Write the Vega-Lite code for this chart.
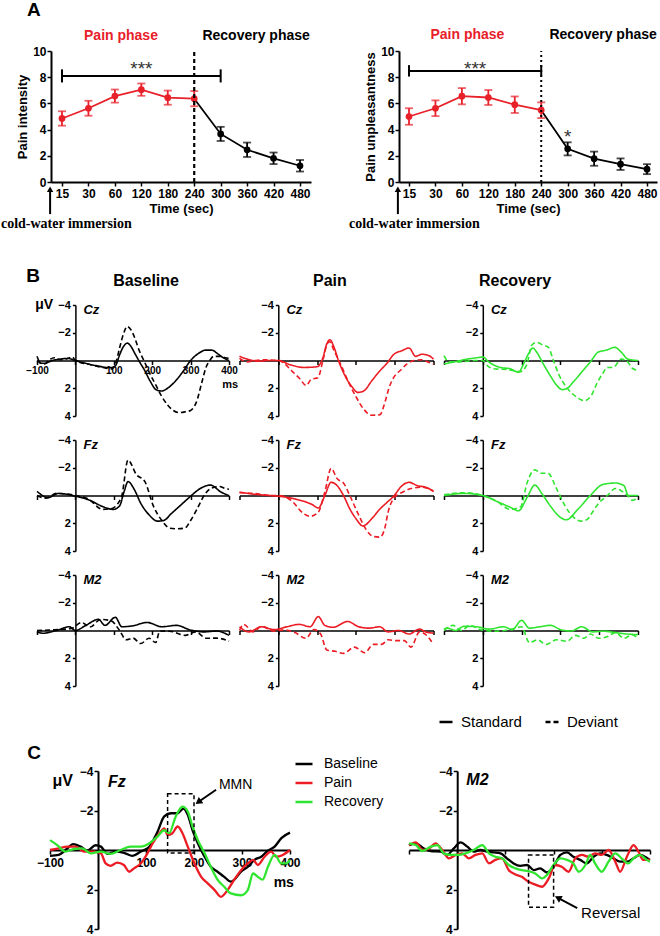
{
"$schema": "https://vega.github.io/schema/vega-lite/v6.json",
"padding": {"left": 0, "top": 0, "right": 0, "bottom": 0},
"autosize": {"type": "pad"},
"background": "white",
"config": {
  "view": {"stroke": null},
  "font": "Liberation Sans",
  "axis": {"grid": false, "domainColor": "black", "tickColor": "black", "labelColor": "black", "titleColor": "black", "labelFont": "Liberation Sans", "titleFont": "Liberation Sans", "labelFontWeight": "bold", "titleFontWeight": "bold", "labelFlush": false, "labelOverlap": false},
  "legend": {"labelFont": "Liberation Sans", "labelColor": "black", "padding": 0},
  "text": {"font": "Liberation Sans", "color": "black"}
},
"datasets": {
  "pi": [
    {"i":0,"sec":15,"m":4.85,"e":0.55},{"i":1,"sec":30,"m":5.63,"e":0.57},{"i":2,"sec":60,"m":6.56,"e":0.5},{"i":3,"sec":120,"m":7.05,"e":0.47},{"i":4,"sec":180,"m":6.44,"e":0.54},
    {"i":5,"sec":240,"m":6.36,"e":0.58},{"i":6,"sec":300,"m":3.67,"e":0.54},{"i":7,"sec":360,"m":2.46,"e":0.55},{"i":8,"sec":420,"m":1.81,"e":0.44},{"i":9,"sec":480,"m":1.24,"e":0.44}
  ],
  "pu": [
    {"i":0,"sec":15,"m":5.0,"e":0.63},{"i":1,"sec":30,"m":5.63,"e":0.6},{"i":2,"sec":60,"m":6.55,"e":0.62},{"i":3,"sec":120,"m":6.45,"e":0.57},{"i":4,"sec":180,"m":5.9,"e":0.63},
    {"i":5,"sec":240,"m":5.48,"e":0.6},{"i":6,"sec":300,"m":2.53,"e":0.5},{"i":7,"sec":360,"m":1.78,"e":0.54},{"i":8,"sec":420,"m":1.36,"e":0.44},{"i":9,"sec":480,"m":0.98,"e":0.38}
  ],
  "bCz": [
    {"c":"Baseline","s":"Standard","t":-100,"v":-0.3},{"c":"Baseline","s":"Standard","t":-90,"v":0.2},{"c":"Baseline","s":"Standard","t":-80,"v":0.2},{"c":"Baseline","s":"Standard","t":-60,"v":0.0},{"c":"Baseline","s":"Standard","t":-40,"v":-0.1},{"c":"Baseline","s":"Standard","t":-20,"v":-0.15},{"c":"Baseline","s":"Standard","t":0,"v":0},{"c":"Baseline","s":"Standard","t":20,"v":0.15},{"c":"Baseline","s":"Standard","t":40,"v":0.3},{"c":"Baseline","s":"Standard","t":60,"v":0.4},{"c":"Baseline","s":"Standard","t":80,"v":0.5},{"c":"Baseline","s":"Standard","t":95,"v":0.5},{"c":"Baseline","s":"Standard","t":105,"v":0.35},{"c":"Baseline","s":"Standard","t":115,"v":-0.4},{"c":"Baseline","s":"Standard","t":125,"v":-1.0},{"c":"Baseline","s":"Standard","t":135,"v":-1.25},{"c":"Baseline","s":"Standard","t":145,"v":-1.0},{"c":"Baseline","s":"Standard","t":155,"v":-0.5},{"c":"Baseline","s":"Standard","t":165,"v":0.0},{"c":"Baseline","s":"Standard","t":180,"v":0.7},{"c":"Baseline","s":"Standard","t":195,"v":1.5},{"c":"Baseline","s":"Standard","t":210,"v":2.1},{"c":"Baseline","s":"Standard","t":225,"v":2.2},{"c":"Baseline","s":"Standard","t":240,"v":2.0},{"c":"Baseline","s":"Standard","t":260,"v":1.5},{"c":"Baseline","s":"Standard","t":280,"v":0.8},{"c":"Baseline","s":"Standard","t":300,"v":0.0},{"c":"Baseline","s":"Standard","t":320,"v":-0.5},{"c":"Baseline","s":"Standard","t":340,"v":-0.75},{"c":"Baseline","s":"Standard","t":355,"v":-0.75},{"c":"Baseline","s":"Standard","t":370,"v":-0.5},{"c":"Baseline","s":"Standard","t":385,"v":-0.2},{"c":"Baseline","s":"Standard","t":400,"v":0.0},
    {"c":"Baseline","s":"Deviant","t":-100,"v":0.0},{"c":"Baseline","s":"Deviant","t":-90,"v":0.2},{"c":"Baseline","s":"Deviant","t":-80,"v":0.25},{"c":"Baseline","s":"Deviant","t":-70,"v":0.0},{"c":"Baseline","s":"Deviant","t":-55,"v":-0.2},{"c":"Baseline","s":"Deviant","t":-40,"v":-0.05},{"c":"Baseline","s":"Deviant","t":-25,"v":-0.1},{"c":"Baseline","s":"Deviant","t":-8,"v":-0.25},{"c":"Baseline","s":"Deviant","t":0,"v":0},{"c":"Baseline","s":"Deviant","t":20,"v":0.2},{"c":"Baseline","s":"Deviant","t":40,"v":0.3},{"c":"Baseline","s":"Deviant","t":60,"v":0.45},{"c":"Baseline","s":"Deviant","t":80,"v":0.55},{"c":"Baseline","s":"Deviant","t":95,"v":0.6},{"c":"Baseline","s":"Deviant","t":105,"v":0.2},{"c":"Baseline","s":"Deviant","t":115,"v":-0.9},{"c":"Baseline","s":"Deviant","t":125,"v":-1.9},{"c":"Baseline","s":"Deviant","t":135,"v":-2.45},{"c":"Baseline","s":"Deviant","t":145,"v":-2.2},{"c":"Baseline","s":"Deviant","t":155,"v":-1.6},{"c":"Baseline","s":"Deviant","t":165,"v":-0.8},{"c":"Baseline","s":"Deviant","t":180,"v":0.1},{"c":"Baseline","s":"Deviant","t":195,"v":1.0},{"c":"Baseline","s":"Deviant","t":210,"v":1.8},{"c":"Baseline","s":"Deviant","t":225,"v":2.6},{"c":"Baseline","s":"Deviant","t":240,"v":3.2},{"c":"Baseline","s":"Deviant","t":255,"v":3.6},{"c":"Baseline","s":"Deviant","t":270,"v":3.75},{"c":"Baseline","s":"Deviant","t":285,"v":3.7},{"c":"Baseline","s":"Deviant","t":300,"v":3.6},{"c":"Baseline","s":"Deviant","t":315,"v":3.0},{"c":"Baseline","s":"Deviant","t":330,"v":1.5},{"c":"Baseline","s":"Deviant","t":340,"v":0.5},{"c":"Baseline","s":"Deviant","t":350,"v":0.0},{"c":"Baseline","s":"Deviant","t":360,"v":-0.3},{"c":"Baseline","s":"Deviant","t":375,"v":-0.3},{"c":"Baseline","s":"Deviant","t":390,"v":-0.2},{"c":"Baseline","s":"Deviant","t":400,"v":-0.15},
    {"c":"Pain","s":"Standard","t":-100,"v":-0.3},{"c":"Pain","s":"Standard","t":-80,"v":-0.1},{"c":"Pain","s":"Standard","t":-50,"v":0.05},{"c":"Pain","s":"Standard","t":-25,"v":0},{"c":"Pain","s":"Standard","t":0,"v":0},{"c":"Pain","s":"Standard","t":30,"v":0.3},{"c":"Pain","s":"Standard","t":65,"v":0.5},{"c":"Pain","s":"Standard","t":100,"v":0.45},{"c":"Pain","s":"Standard","t":115,"v":-0.2},{"c":"Pain","s":"Standard","t":125,"v":-1.2},{"c":"Pain","s":"Standard","t":133,"v":-1.5},{"c":"Pain","s":"Standard","t":143,"v":-1.0},{"c":"Pain","s":"Standard","t":155,"v":0.0},{"c":"Pain","s":"Standard","t":172,"v":1.1},{"c":"Pain","s":"Standard","t":190,"v":1.9},{"c":"Pain","s":"Standard","t":205,"v":2.3},{"c":"Pain","s":"Standard","t":220,"v":2.2},{"c":"Pain","s":"Standard","t":240,"v":1.5},{"c":"Pain","s":"Standard","t":260,"v":0.8},{"c":"Pain","s":"Standard","t":280,"v":0.2},{"c":"Pain","s":"Standard","t":298,"v":-0.45},{"c":"Pain","s":"Standard","t":318,"v":-0.7},{"c":"Pain","s":"Standard","t":337,"v":-0.9},{"c":"Pain","s":"Standard","t":354,"v":-0.3},{"c":"Pain","s":"Standard","t":370,"v":-0.45},{"c":"Pain","s":"Standard","t":388,"v":-0.35},{"c":"Pain","s":"Standard","t":400,"v":-0.1},
    {"c":"Pain","s":"Deviant","t":-100,"v":-0.15},{"c":"Pain","s":"Deviant","t":-80,"v":0.1},{"c":"Pain","s":"Deviant","t":-60,"v":0},{"c":"Pain","s":"Deviant","t":-40,"v":-0.05},{"c":"Pain","s":"Deviant","t":0,"v":0},{"c":"Pain","s":"Deviant","t":15,"v":0.2},{"c":"Pain","s":"Deviant","t":33,"v":0.7},{"c":"Pain","s":"Deviant","t":55,"v":1.3},{"c":"Pain","s":"Deviant","t":72,"v":1.8},{"c":"Pain","s":"Deviant","t":85,"v":1.35},{"c":"Pain","s":"Deviant","t":102,"v":1.25},{"c":"Pain","s":"Deviant","t":115,"v":0.0},{"c":"Pain","s":"Deviant","t":126,"v":-1.2},{"c":"Pain","s":"Deviant","t":132,"v":-1.35},{"c":"Pain","s":"Deviant","t":144,"v":-0.7},{"c":"Pain","s":"Deviant","t":162,"v":0.35},{"c":"Pain","s":"Deviant","t":180,"v":1.5},{"c":"Pain","s":"Deviant","t":200,"v":2.6},{"c":"Pain","s":"Deviant","t":220,"v":3.5},{"c":"Pain","s":"Deviant","t":240,"v":3.95},{"c":"Pain","s":"Deviant","t":262,"v":3.9},{"c":"Pain","s":"Deviant","t":275,"v":3.0},{"c":"Pain","s":"Deviant","t":285,"v":2.0},{"c":"Pain","s":"Deviant","t":298,"v":1.2},{"c":"Pain","s":"Deviant","t":315,"v":0.7},{"c":"Pain","s":"Deviant","t":332,"v":0.25},{"c":"Pain","s":"Deviant","t":350,"v":0.0},{"c":"Pain","s":"Deviant","t":370,"v":-0.05},{"c":"Pain","s":"Deviant","t":385,"v":0.1},{"c":"Pain","s":"Deviant","t":400,"v":0.25},
    {"c":"Recovery","s":"Standard","t":-100,"v":0.25},{"c":"Recovery","s":"Standard","t":-74,"v":0.1},{"c":"Recovery","s":"Standard","t":-40,"v":-0.1},{"c":"Recovery","s":"Standard","t":-15,"v":-0.2},{"c":"Recovery","s":"Standard","t":0,"v":-0.25},{"c":"Recovery","s":"Standard","t":15,"v":0.1},{"c":"Recovery","s":"Standard","t":45,"v":0.5},{"c":"Recovery","s":"Standard","t":71,"v":0.6},{"c":"Recovery","s":"Standard","t":92,"v":0.85},{"c":"Recovery","s":"Standard","t":105,"v":0.25},{"c":"Recovery","s":"Standard","t":118,"v":-0.5},{"c":"Recovery","s":"Standard","t":129,"v":-0.9},{"c":"Recovery","s":"Standard","t":139,"v":-0.6},{"c":"Recovery","s":"Standard","t":156,"v":0.25},{"c":"Recovery","s":"Standard","t":174,"v":1.1},{"c":"Recovery","s":"Standard","t":191,"v":1.8},{"c":"Recovery","s":"Standard","t":205,"v":2.1},{"c":"Recovery","s":"Standard","t":218,"v":2.0},{"c":"Recovery","s":"Standard","t":233,"v":1.55},{"c":"Recovery","s":"Standard","t":259,"v":0.7},{"c":"Recovery","s":"Standard","t":280,"v":0.0},{"c":"Recovery","s":"Standard","t":297,"v":-0.6},{"c":"Recovery","s":"Standard","t":319,"v":-0.75},{"c":"Recovery","s":"Standard","t":340,"v":-0.95},{"c":"Recovery","s":"Standard","t":357,"v":-0.6},{"c":"Recovery","s":"Standard","t":374,"v":-0.1},{"c":"Recovery","s":"Standard","t":400,"v":0.0},
    {"c":"Recovery","s":"Deviant","t":-100,"v":-0.35},{"c":"Recovery","s":"Deviant","t":-87,"v":0.1},{"c":"Recovery","s":"Deviant","t":-57,"v":0.1},{"c":"Recovery","s":"Deviant","t":-23,"v":0.0},{"c":"Recovery","s":"Deviant","t":0,"v":0.0},{"c":"Recovery","s":"Deviant","t":11,"v":0.35},{"c":"Recovery","s":"Deviant","t":28,"v":0.6},{"c":"Recovery","s":"Deviant","t":62,"v":0.65},{"c":"Recovery","s":"Deviant","t":97,"v":0.8},{"c":"Recovery","s":"Deviant","t":114,"v":0.25},{"c":"Recovery","s":"Deviant","t":126,"v":-1.1},{"c":"Recovery","s":"Deviant","t":139,"v":-1.3},{"c":"Recovery","s":"Deviant","t":156,"v":-1.1},{"c":"Recovery","s":"Deviant","t":169,"v":-0.95},{"c":"Recovery","s":"Deviant","t":182,"v":0.0},{"c":"Recovery","s":"Deviant","t":195,"v":0.95},{"c":"Recovery","s":"Deviant","t":215,"v":1.9},{"c":"Recovery","s":"Deviant","t":240,"v":2.6},{"c":"Recovery","s":"Deviant","t":262,"v":2.9},{"c":"Recovery","s":"Deviant","t":280,"v":2.5},{"c":"Recovery","s":"Deviant","t":295,"v":1.6},{"c":"Recovery","s":"Deviant","t":310,"v":0.9},{"c":"Recovery","s":"Deviant","t":320,"v":0.5},{"c":"Recovery","s":"Deviant","t":336,"v":0.5},{"c":"Recovery","s":"Deviant","t":357,"v":-0.1},{"c":"Recovery","s":"Deviant","t":370,"v":0.0},{"c":"Recovery","s":"Deviant","t":387,"v":0.6},{"c":"Recovery","s":"Deviant","t":400,"v":0.7}
  ],
  "bFz": [
    {"c":"Baseline","s":"Standard","t":-100,"v":-0.3},{"c":"Baseline","s":"Standard","t":-71,"v":0.15},{"c":"Baseline","s":"Standard","t":-44,"v":-0.15},{"c":"Baseline","s":"Standard","t":0,"v":0.05},{"c":"Baseline","s":"Standard","t":38,"v":0.35},{"c":"Baseline","s":"Standard","t":71,"v":0.8},{"c":"Baseline","s":"Standard","t":99,"v":1.0},{"c":"Baseline","s":"Standard","t":115,"v":0.75},{"c":"Baseline","s":"Standard","t":127,"v":-0.3},{"c":"Baseline","s":"Standard","t":137,"v":-1.0},{"c":"Baseline","s":"Standard","t":154,"v":-0.4},{"c":"Baseline","s":"Standard","t":170,"v":0.55},{"c":"Baseline","s":"Standard","t":192,"v":1.4},{"c":"Baseline","s":"Standard","t":214,"v":1.85},{"c":"Baseline","s":"Standard","t":230,"v":1.8},{"c":"Baseline","s":"Standard","t":250,"v":1.3},{"c":"Baseline","s":"Standard","t":270,"v":0.8},{"c":"Baseline","s":"Standard","t":290,"v":0.3},{"c":"Baseline","s":"Standard","t":302,"v":0.0},{"c":"Baseline","s":"Standard","t":325,"v":-0.5},{"c":"Baseline","s":"Standard","t":352,"v":-0.75},{"c":"Baseline","s":"Standard","t":379,"v":-0.25},{"c":"Baseline","s":"Standard","t":400,"v":0.0},
    {"c":"Baseline","s":"Deviant","t":-100,"v":0.0},{"c":"Baseline","s":"Deviant","t":-78,"v":0.2},{"c":"Baseline","s":"Deviant","t":-49,"v":-0.15},{"c":"Baseline","s":"Deviant","t":0,"v":0.0},{"c":"Baseline","s":"Deviant","t":33,"v":0.25},{"c":"Baseline","s":"Deviant","t":71,"v":1.0},{"c":"Baseline","s":"Deviant","t":93,"v":0.95},{"c":"Baseline","s":"Deviant","t":110,"v":0.6},{"c":"Baseline","s":"Deviant","t":121,"v":0.0},{"c":"Baseline","s":"Deviant","t":137,"v":-2.55},{"c":"Baseline","s":"Deviant","t":159,"v":-1.5},{"c":"Baseline","s":"Deviant","t":181,"v":-1.0},{"c":"Baseline","s":"Deviant","t":203,"v":0.75},{"c":"Baseline","s":"Deviant","t":225,"v":1.8},{"c":"Baseline","s":"Deviant","t":245,"v":2.35},{"c":"Baseline","s":"Deviant","t":265,"v":2.4},{"c":"Baseline","s":"Deviant","t":285,"v":2.35},{"c":"Baseline","s":"Deviant","t":300,"v":1.8},{"c":"Baseline","s":"Deviant","t":320,"v":0.8},{"c":"Baseline","s":"Deviant","t":335,"v":0.0},{"c":"Baseline","s":"Deviant","t":352,"v":-0.5},{"c":"Baseline","s":"Deviant","t":375,"v":-0.65},{"c":"Baseline","s":"Deviant","t":390,"v":-0.5},{"c":"Baseline","s":"Deviant","t":400,"v":-0.45},
    {"c":"Pain","s":"Standard","t":-100,"v":-0.25},{"c":"Pain","s":"Standard","t":-65,"v":-0.1},{"c":"Pain","s":"Standard","t":-22,"v":0.0},{"c":"Pain","s":"Standard","t":0,"v":0.05},{"c":"Pain","s":"Standard","t":43,"v":0.25},{"c":"Pain","s":"Standard","t":87,"v":0.65},{"c":"Pain","s":"Standard","t":103,"v":0.9},{"c":"Pain","s":"Standard","t":120,"v":0.0},{"c":"Pain","s":"Standard","t":136,"v":-0.95},{"c":"Pain","s":"Standard","t":152,"v":-0.7},{"c":"Pain","s":"Standard","t":168,"v":0.0},{"c":"Pain","s":"Standard","t":185,"v":1.0},{"c":"Pain","s":"Standard","t":201,"v":1.7},{"c":"Pain","s":"Standard","t":218,"v":2.2},{"c":"Pain","s":"Standard","t":240,"v":1.7},{"c":"Pain","s":"Standard","t":261,"v":1.0},{"c":"Pain","s":"Standard","t":280,"v":0.5},{"c":"Pain","s":"Standard","t":299,"v":0.0},{"c":"Pain","s":"Standard","t":315,"v":-0.6},{"c":"Pain","s":"Standard","t":337,"v":-0.95},{"c":"Pain","s":"Standard","t":359,"v":-0.7},{"c":"Pain","s":"Standard","t":380,"v":-0.6},{"c":"Pain","s":"Standard","t":400,"v":-0.3},
    {"c":"Pain","s":"Deviant","t":-100,"v":-0.2},{"c":"Pain","s":"Deviant","t":-65,"v":-0.15},{"c":"Pain","s":"Deviant","t":-20,"v":0.0},{"c":"Pain","s":"Deviant","t":0,"v":0.0},{"c":"Pain","s":"Deviant","t":33,"v":0.35},{"c":"Pain","s":"Deviant","t":65,"v":1.3},{"c":"Pain","s":"Deviant","t":82,"v":1.5},{"c":"Pain","s":"Deviant","t":103,"v":1.2},{"c":"Pain","s":"Deviant","t":120,"v":-0.25},{"c":"Pain","s":"Deviant","t":136,"v":-1.95},{"c":"Pain","s":"Deviant","t":152,"v":-1.2},{"c":"Pain","s":"Deviant","t":168,"v":-0.9},{"c":"Pain","s":"Deviant","t":185,"v":0.05},{"c":"Pain","s":"Deviant","t":207,"v":1.4},{"c":"Pain","s":"Deviant","t":225,"v":2.4},{"c":"Pain","s":"Deviant","t":245,"v":2.95},{"c":"Pain","s":"Deviant","t":262,"v":3.0},{"c":"Pain","s":"Deviant","t":275,"v":2.3},{"c":"Pain","s":"Deviant","t":283,"v":1.2},{"c":"Pain","s":"Deviant","t":299,"v":0.15},{"c":"Pain","s":"Deviant","t":321,"v":-0.25},{"c":"Pain","s":"Deviant","t":342,"v":-0.5},{"c":"Pain","s":"Deviant","t":370,"v":-0.6},{"c":"Pain","s":"Deviant","t":400,"v":-0.3},
    {"c":"Recovery","s":"Standard","t":-100,"v":0.0},{"c":"Recovery","s":"Standard","t":-49,"v":-0.15},{"c":"Recovery","s":"Standard","t":0,"v":0.0},{"c":"Recovery","s":"Standard","t":38,"v":0.45},{"c":"Recovery","s":"Standard","t":71,"v":0.85},{"c":"Recovery","s":"Standard","t":92,"v":1.1},{"c":"Recovery","s":"Standard","t":114,"v":0.15},{"c":"Recovery","s":"Standard","t":134,"v":-0.75},{"c":"Recovery","s":"Standard","t":152,"v":-0.15},{"c":"Recovery","s":"Standard","t":174,"v":0.75},{"c":"Recovery","s":"Standard","t":201,"v":1.6},{"c":"Recovery","s":"Standard","t":215,"v":1.75},{"c":"Recovery","s":"Standard","t":245,"v":1.0},{"c":"Recovery","s":"Standard","t":277,"v":0.0},{"c":"Recovery","s":"Standard","t":310,"v":-0.8},{"c":"Recovery","s":"Standard","t":342,"v":-0.9},{"c":"Recovery","s":"Standard","t":364,"v":-0.7},{"c":"Recovery","s":"Standard","t":375,"v":0.0},{"c":"Recovery","s":"Standard","t":400,"v":0.0},
    {"c":"Recovery","s":"Deviant","t":-100,"v":-0.05},{"c":"Recovery","s":"Deviant","t":-49,"v":-0.2},{"c":"Recovery","s":"Deviant","t":0,"v":0.0},{"c":"Recovery","s":"Deviant","t":35,"v":0.4},{"c":"Recovery","s":"Deviant","t":71,"v":1.0},{"c":"Recovery","s":"Deviant","t":98,"v":0.8},{"c":"Recovery","s":"Deviant","t":114,"v":-0.9},{"c":"Recovery","s":"Deviant","t":134,"v":-1.85},{"c":"Recovery","s":"Deviant","t":152,"v":-1.6},{"c":"Recovery","s":"Deviant","t":168,"v":-1.6},{"c":"Recovery","s":"Deviant","t":190,"v":-0.5},{"c":"Recovery","s":"Deviant","t":212,"v":0.75},{"c":"Recovery","s":"Deviant","t":235,"v":1.6},{"c":"Recovery","s":"Deviant","t":255,"v":1.85},{"c":"Recovery","s":"Deviant","t":270,"v":1.7},{"c":"Recovery","s":"Deviant","t":285,"v":1.1},{"c":"Recovery","s":"Deviant","t":299,"v":0.55},{"c":"Recovery","s":"Deviant","t":321,"v":0.0},{"c":"Recovery","s":"Deviant","t":342,"v":-0.5},{"c":"Recovery","s":"Deviant","t":359,"v":-0.3},{"c":"Recovery","s":"Deviant","t":375,"v":0.05},{"c":"Recovery","s":"Deviant","t":386,"v":0.35},{"c":"Recovery","s":"Deviant","t":400,"v":0.15}
  ],
  "bM2": [
    {"c":"Baseline","s":"Standard","t":-100,"v":0.1},{"c":"Baseline","s":"Standard","t":-85,"v":0.2},{"c":"Baseline","s":"Standard","t":-49,"v":0.0},{"c":"Baseline","s":"Standard","t":-16,"v":-0.27},{"c":"Baseline","s":"Standard","t":0,"v":0.0},{"c":"Baseline","s":"Standard","t":27,"v":-0.37},{"c":"Baseline","s":"Standard","t":60,"v":-0.8},{"c":"Baseline","s":"Standard","t":77,"v":-0.37},{"c":"Baseline","s":"Standard","t":104,"v":-0.95},{"c":"Baseline","s":"Standard","t":121,"v":-0.27},{"c":"Baseline","s":"Standard","t":148,"v":-0.33},{"c":"Baseline","s":"Standard","t":187,"v":-0.58},{"c":"Baseline","s":"Standard","t":225,"v":-0.27},{"c":"Baseline","s":"Standard","t":264,"v":-0.37},{"c":"Baseline","s":"Standard","t":297,"v":-0.06},{"c":"Baseline","s":"Standard","t":335,"v":0.1},{"c":"Baseline","s":"Standard","t":368,"v":0.04},{"c":"Baseline","s":"Standard","t":400,"v":0.35},
    {"c":"Baseline","s":"Deviant","t":-100,"v":0.0},{"c":"Baseline","s":"Deviant","t":-55,"v":-0.05},{"c":"Baseline","s":"Deviant","t":-10,"v":-0.15},{"c":"Baseline","s":"Deviant","t":16,"v":-0.58},{"c":"Baseline","s":"Deviant","t":38,"v":-0.25},{"c":"Baseline","s":"Deviant","t":66,"v":-0.8},{"c":"Baseline","s":"Deviant","t":93,"v":-0.7},{"c":"Baseline","s":"Deviant","t":115,"v":0.0},{"c":"Baseline","s":"Deviant","t":132,"v":0.67},{"c":"Baseline","s":"Deviant","t":150,"v":0.55},{"c":"Baseline","s":"Deviant","t":170,"v":0.94},{"c":"Baseline","s":"Deviant","t":192,"v":0.56},{"c":"Baseline","s":"Deviant","t":209,"v":0.87},{"c":"Baseline","s":"Deviant","t":220,"v":0.04},{"c":"Baseline","s":"Deviant","t":245,"v":0.05},{"c":"Baseline","s":"Deviant","t":286,"v":0.35},{"c":"Baseline","s":"Deviant","t":313,"v":0.1},{"c":"Baseline","s":"Deviant","t":341,"v":0.56},{"c":"Baseline","s":"Deviant","t":368,"v":0.55},{"c":"Baseline","s":"Deviant","t":400,"v":0.77},
    {"c":"Pain","s":"Standard","t":-100,"v":-0.27},{"c":"Pain","s":"Standard","t":-76,"v":0.1},{"c":"Pain","s":"Standard","t":-43,"v":-0.27},{"c":"Pain","s":"Standard","t":-11,"v":-0.06},{"c":"Pain","s":"Standard","t":22,"v":-0.27},{"c":"Pain","s":"Standard","t":54,"v":-0.44},{"c":"Pain","s":"Standard","t":82,"v":-0.27},{"c":"Pain","s":"Standard","t":103,"v":-1.0},{"c":"Pain","s":"Standard","t":120,"v":-0.37},{"c":"Pain","s":"Standard","t":141,"v":-0.23},{"c":"Pain","s":"Standard","t":179,"v":-0.65},{"c":"Pain","s":"Standard","t":207,"v":-0.27},{"c":"Pain","s":"Standard","t":234,"v":-0.17},{"c":"Pain","s":"Standard","t":261,"v":-0.27},{"c":"Pain","s":"Standard","t":283,"v":0.1},{"c":"Pain","s":"Standard","t":310,"v":0.0},{"c":"Pain","s":"Standard","t":337,"v":0.25},{"c":"Pain","s":"Standard","t":364,"v":-0.1},{"c":"Pain","s":"Standard","t":380,"v":0.1},{"c":"Pain","s":"Standard","t":400,"v":0.19},
    {"c":"Pain","s":"Deviant","t":-100,"v":0.0},{"c":"Pain","s":"Deviant","t":-89,"v":-0.44},{"c":"Pain","s":"Deviant","t":-65,"v":0.1},{"c":"Pain","s":"Deviant","t":-43,"v":-0.3},{"c":"Pain","s":"Deviant","t":-11,"v":0.05},{"c":"Pain","s":"Deviant","t":16,"v":-0.05},{"c":"Pain","s":"Deviant","t":43,"v":0.15},{"c":"Pain","s":"Deviant","t":71,"v":0.56},{"c":"Pain","s":"Deviant","t":92,"v":-0.06},{"c":"Pain","s":"Deviant","t":109,"v":0.25},{"c":"Pain","s":"Deviant","t":125,"v":1.4},{"c":"Pain","s":"Deviant","t":147,"v":1.5},{"c":"Pain","s":"Deviant","t":168,"v":1.65},{"c":"Pain","s":"Deviant","t":196,"v":1.2},{"c":"Pain","s":"Deviant","t":223,"v":1.6},{"c":"Pain","s":"Deviant","t":245,"v":1.0},{"c":"Pain","s":"Deviant","t":266,"v":1.0},{"c":"Pain","s":"Deviant","t":283,"v":0.67},{"c":"Pain","s":"Deviant","t":304,"v":0.73},{"c":"Pain","s":"Deviant","t":325,"v":0.73},{"c":"Pain","s":"Deviant","t":342,"v":1.2},{"c":"Pain","s":"Deviant","t":364,"v":0.1},{"c":"Pain","s":"Deviant","t":380,"v":0.3},{"c":"Pain","s":"Deviant","t":400,"v":1.0},
    {"c":"Recovery","s":"Standard","t":-100,"v":-0.1},{"c":"Recovery","s":"Standard","t":-92,"v":-0.17},{"c":"Recovery","s":"Standard","t":-70,"v":0.0},{"c":"Recovery","s":"Standard","t":-49,"v":-0.3},{"c":"Recovery","s":"Standard","t":-16,"v":-0.27},{"c":"Recovery","s":"Standard","t":16,"v":-0.1},{"c":"Recovery","s":"Standard","t":54,"v":-0.27},{"c":"Recovery","s":"Standard","t":76,"v":-0.06},{"c":"Recovery","s":"Standard","t":100,"v":-0.73},{"c":"Recovery","s":"Standard","t":120,"v":-0.17},{"c":"Recovery","s":"Standard","t":147,"v":-0.27},{"c":"Recovery","s":"Standard","t":174,"v":-0.37},{"c":"Recovery","s":"Standard","t":201,"v":-0.06},{"c":"Recovery","s":"Standard","t":228,"v":0.04},{"c":"Recovery","s":"Standard","t":255,"v":-0.27},{"c":"Recovery","s":"Standard","t":283,"v":0.1},{"c":"Recovery","s":"Standard","t":310,"v":0.05},{"c":"Recovery","s":"Standard","t":342,"v":0.15},{"c":"Recovery","s":"Standard","t":370,"v":0.25},{"c":"Recovery","s":"Standard","t":400,"v":0.3},
    {"c":"Recovery","s":"Deviant","t":-100,"v":0.0},{"c":"Recovery","s":"Deviant","t":-77,"v":-0.37},{"c":"Recovery","s":"Deviant","t":-55,"v":0.0},{"c":"Recovery","s":"Deviant","t":-33,"v":-0.37},{"c":"Recovery","s":"Deviant","t":-5,"v":-0.05},{"c":"Recovery","s":"Deviant","t":33,"v":0.05},{"c":"Recovery","s":"Deviant","t":76,"v":-0.1},{"c":"Recovery","s":"Deviant","t":100,"v":-0.27},{"c":"Recovery","s":"Deviant","t":120,"v":0.87},{"c":"Recovery","s":"Deviant","t":141,"v":0.67},{"c":"Recovery","s":"Deviant","t":163,"v":1.0},{"c":"Recovery","s":"Deviant","t":190,"v":0.67},{"c":"Recovery","s":"Deviant","t":217,"v":0.77},{"c":"Recovery","s":"Deviant","t":239,"v":0.35},{"c":"Recovery","s":"Deviant","t":261,"v":0.56},{"c":"Recovery","s":"Deviant","t":277,"v":0.25},{"c":"Recovery","s":"Deviant","t":299,"v":0.56},{"c":"Recovery","s":"Deviant","t":320,"v":0.45},{"c":"Recovery","s":"Deviant","t":342,"v":0.15},{"c":"Recovery","s":"Deviant","t":364,"v":0.56},{"c":"Recovery","s":"Deviant","t":385,"v":0.3},{"c":"Recovery","s":"Deviant","t":400,"v":0.6}
  ],
  "cFz": [
    {"c":"Baseline","t":-100,"v":0.3},{"c":"Baseline","t":-82,"v":0.25},{"c":"Baseline","t":-64,"v":-0.08},{"c":"Baseline","t":-52,"v":-0.3},{"c":"Baseline","t":-36,"v":-0.17},{"c":"Baseline","t":-22,"v":0.03},{"c":"Baseline","t":-5,"v":-0.24},{"c":"Baseline","t":6,"v":-0.17},{"c":"Baseline","t":20,"v":0.2},{"c":"Baseline","t":37,"v":0.08},{"c":"Baseline","t":54,"v":0.14},{"c":"Baseline","t":72,"v":0.3},{"c":"Baseline","t":89,"v":0.08},{"c":"Baseline","t":107,"v":-0.17},{"c":"Baseline","t":124,"v":-0.93},{"c":"Baseline","t":138,"v":-1.7},{"c":"Baseline","t":152,"v":-1.86},{"c":"Baseline","t":166,"v":-1.86},{"c":"Baseline","t":178,"v":-2.1},{"c":"Baseline","t":187,"v":-1.78},{"c":"Baseline","t":197,"v":-1.0},{"c":"Baseline","t":208,"v":-0.34},{"c":"Baseline","t":222,"v":0.34},{"c":"Baseline","t":235,"v":0.85},{"c":"Baseline","t":249,"v":1.1},{"c":"Baseline","t":263,"v":1.36},{"c":"Baseline","t":277,"v":1.6},{"c":"Baseline","t":284,"v":1.5},{"c":"Baseline","t":298,"v":1.1},{"c":"Baseline","t":312,"v":0.85},{"c":"Baseline","t":326,"v":0.5},{"c":"Baseline","t":340,"v":0.34},{"c":"Baseline","t":354,"v":0.03},{"c":"Baseline","t":368,"v":-0.17},{"c":"Baseline","t":382,"v":-0.6},{"c":"Baseline","t":400,"v":-0.88},
    {"c":"Pain","t":-100,"v":0.0},{"c":"Pain","t":-82,"v":-0.08},{"c":"Pain","t":-64,"v":-0.17},{"c":"Pain","t":-47,"v":-0.17},{"c":"Pain","t":-29,"v":0.08},{"c":"Pain","t":-8,"v":0.08},{"c":"Pain","t":6,"v":0.17},{"c":"Pain","t":16,"v":0.68},{"c":"Pain","t":26,"v":0.8},{"c":"Pain","t":40,"v":0.64},{"c":"Pain","t":54,"v":0.76},{"c":"Pain","t":65,"v":1.1},{"c":"Pain","t":75,"v":0.93},{"c":"Pain","t":89,"v":0.68},{"c":"Pain","t":103,"v":0.17},{"c":"Pain","t":114,"v":-0.34},{"c":"Pain","t":128,"v":-0.85},{"c":"Pain","t":138,"v":-1.1},{"c":"Pain","t":145,"v":-0.76},{"c":"Pain","t":155,"v":-0.85},{"c":"Pain","t":166,"v":-1.19},{"c":"Pain","t":176,"v":-0.85},{"c":"Pain","t":187,"v":-0.17},{"c":"Pain","t":201,"v":0.68},{"c":"Pain","t":215,"v":1.36},{"c":"Pain","t":229,"v":1.7},{"c":"Pain","t":243,"v":2.03},{"c":"Pain","t":256,"v":2.37},{"c":"Pain","t":270,"v":2.03},{"c":"Pain","t":284,"v":1.5},{"c":"Pain","t":298,"v":1.02},{"c":"Pain","t":312,"v":0.68},{"c":"Pain","t":323,"v":0.5},{"c":"Pain","t":333,"v":0.76},{"c":"Pain","t":347,"v":0.34},{"c":"Pain","t":361,"v":0.08},{"c":"Pain","t":371,"v":0.34},{"c":"Pain","t":385,"v":0.25},{"c":"Pain","t":400,"v":0.0},
    {"c":"Recovery","t":-100,"v":-0.5},{"c":"Recovery","t":-85,"v":-0.25},{"c":"Recovery","t":-68,"v":0.08},{"c":"Recovery","t":-50,"v":-0.05},{"c":"Recovery","t":-33,"v":-0.08},{"c":"Recovery","t":-15,"v":0.17},{"c":"Recovery","t":6,"v":0.08},{"c":"Recovery","t":26,"v":0.2},{"c":"Recovery","t":47,"v":0.0},{"c":"Recovery","t":68,"v":-0.17},{"c":"Recovery","t":89,"v":-0.17},{"c":"Recovery","t":107,"v":-0.34},{"c":"Recovery","t":124,"v":-0.68},{"c":"Recovery","t":138,"v":-1.0},{"c":"Recovery","t":148,"v":-0.85},{"c":"Recovery","t":162,"v":-1.7},{"c":"Recovery","t":176,"v":-2.2},{"c":"Recovery","t":187,"v":-1.95},{"c":"Recovery","t":197,"v":-1.19},{"c":"Recovery","t":208,"v":-0.5},{"c":"Recovery","t":222,"v":0.17},{"c":"Recovery","t":235,"v":0.85},{"c":"Recovery","t":249,"v":1.5},{"c":"Recovery","t":263,"v":1.86},{"c":"Recovery","t":277,"v":2.2},{"c":"Recovery","t":298,"v":2.29},{"c":"Recovery","t":312,"v":2.03},{"c":"Recovery","t":323,"v":1.19},{"c":"Recovery","t":333,"v":1.36},{"c":"Recovery","t":343,"v":1.5},{"c":"Recovery","t":354,"v":0.85},{"c":"Recovery","t":368,"v":0.25},{"c":"Recovery","t":382,"v":0.68},{"c":"Recovery","t":392,"v":0.68},{"c":"Recovery","t":400,"v":0.5}
  ],
  "cM2": [
    {"c":"Baseline","t":-100,"v":-0.25},{"c":"Baseline","t":-86,"v":-0.34},{"c":"Baseline","t":-69,"v":-0.08},{"c":"Baseline","t":-55,"v":0.05},{"c":"Baseline","t":-34,"v":0.08},{"c":"Baseline","t":-21,"v":0.25},{"c":"Baseline","t":-7,"v":-0.08},{"c":"Baseline","t":7,"v":-0.39},{"c":"Baseline","t":21,"v":-0.17},{"c":"Baseline","t":34,"v":0.08},{"c":"Baseline","t":48,"v":0.0},{"c":"Baseline","t":62,"v":0.08},{"c":"Baseline","t":76,"v":0.12},{"c":"Baseline","t":90,"v":0.17},{"c":"Baseline","t":103,"v":0.42},{"c":"Baseline","t":117,"v":0.68},{"c":"Baseline","t":131,"v":0.8},{"c":"Baseline","t":145,"v":0.76},{"c":"Baseline","t":159,"v":1.02},{"c":"Baseline","t":172,"v":0.93},{"c":"Baseline","t":186,"v":1.14},{"c":"Baseline","t":200,"v":0.85},{"c":"Baseline","t":214,"v":0.25},{"c":"Baseline","t":228,"v":0.12},{"c":"Baseline","t":241,"v":0.34},{"c":"Baseline","t":255,"v":0.5},{"c":"Baseline","t":269,"v":0.68},{"c":"Baseline","t":283,"v":0.34},{"c":"Baseline","t":297,"v":0.17},{"c":"Baseline","t":310,"v":0.25},{"c":"Baseline","t":324,"v":0.42},{"c":"Baseline","t":338,"v":0.59},{"c":"Baseline","t":352,"v":0.59},{"c":"Baseline","t":366,"v":0.42},{"c":"Baseline","t":379,"v":0.25},{"c":"Baseline","t":393,"v":0.39},{"c":"Baseline","t":400,"v":0.5},
    {"c":"Pain","t":-100,"v":-0.25},{"c":"Pain","t":-86,"v":-0.39},{"c":"Pain","t":-72,"v":0.0},{"c":"Pain","t":-58,"v":-0.08},{"c":"Pain","t":-45,"v":-0.34},{"c":"Pain","t":-31,"v":0.0},{"c":"Pain","t":-17,"v":0.42},{"c":"Pain","t":-3,"v":0.25},{"c":"Pain","t":10,"v":0.17},{"c":"Pain","t":24,"v":0.42},{"c":"Pain","t":38,"v":0.25},{"c":"Pain","t":52,"v":0.17},{"c":"Pain","t":66,"v":0.68},{"c":"Pain","t":79,"v":0.5},{"c":"Pain","t":93,"v":0.42},{"c":"Pain","t":107,"v":1.02},{"c":"Pain","t":121,"v":1.24},{"c":"Pain","t":134,"v":1.36},{"c":"Pain","t":148,"v":1.61},{"c":"Pain","t":162,"v":1.75},{"c":"Pain","t":176,"v":1.86},{"c":"Pain","t":190,"v":1.44},{"c":"Pain","t":203,"v":0.76},{"c":"Pain","t":217,"v":0.85},{"c":"Pain","t":231,"v":1.1},{"c":"Pain","t":245,"v":0.42},{"c":"Pain","t":259,"v":0.25},{"c":"Pain","t":272,"v":0.34},{"c":"Pain","t":286,"v":0.17},{"c":"Pain","t":300,"v":0.25},{"c":"Pain","t":314,"v":0.0},{"c":"Pain","t":328,"v":0.59},{"c":"Pain","t":338,"v":1.1},{"c":"Pain","t":352,"v":0.34},{"c":"Pain","t":366,"v":-0.25},{"c":"Pain","t":376,"v":0.08},{"c":"Pain","t":386,"v":0.5},{"c":"Pain","t":400,"v":0.5},
    {"c":"Recovery","t":-100,"v":-0.34},{"c":"Recovery","t":-86,"v":-0.25},{"c":"Recovery","t":-72,"v":0.05},{"c":"Recovery","t":-55,"v":-0.17},{"c":"Recovery","t":-41,"v":-0.25},{"c":"Recovery","t":-28,"v":0.17},{"c":"Recovery","t":-14,"v":0.25},{"c":"Recovery","t":3,"v":0.25},{"c":"Recovery","t":17,"v":0.17},{"c":"Recovery","t":34,"v":0.0},{"c":"Recovery","t":52,"v":-0.25},{"c":"Recovery","t":66,"v":0.17},{"c":"Recovery","t":79,"v":0.34},{"c":"Recovery","t":93,"v":0.42},{"c":"Recovery","t":107,"v":0.76},{"c":"Recovery","t":121,"v":0.93},{"c":"Recovery","t":134,"v":1.02},{"c":"Recovery","t":148,"v":1.07},{"c":"Recovery","t":162,"v":1.19},{"c":"Recovery","t":176,"v":1.44},{"c":"Recovery","t":186,"v":1.27},{"c":"Recovery","t":200,"v":0.76},{"c":"Recovery","t":214,"v":0.42},{"c":"Recovery","t":228,"v":0.5},{"c":"Recovery","t":241,"v":0.68},{"c":"Recovery","t":252,"v":1.1},{"c":"Recovery","t":266,"v":0.76},{"c":"Recovery","t":276,"v":0.25},{"c":"Recovery","t":286,"v":0.68},{"c":"Recovery","t":300,"v":1.1},{"c":"Recovery","t":314,"v":0.59},{"c":"Recovery","t":328,"v":0.17},{"c":"Recovery","t":341,"v":0.42},{"c":"Recovery","t":355,"v":0.68},{"c":"Recovery","t":366,"v":0.42},{"c":"Recovery","t":379,"v":0.25},{"c":"Recovery","t":393,"v":0.5},{"c":"Recovery","t":400,"v":0.59}
  ]
},
"columns": 3,
"align": "each",
"bounds": "flush",
"spacing": {"row": 24, "column": 10.5},
"concat": [
  {"width": 178, "height": 131,
   "layer": [
    {"data": {"name": "pi"},
     "encoding": {
       "x": {"field": "i", "type": "quantitative", "scale": {"domain": [-0.416, 9.416], "range": [0, 260], "nice": false, "zero": false},
             "axis": {"values": [0,1,2,3,4,5,6,7,8,9], "tickCount": 50, "labelExpr": "['15','30','60','120','180','240','300','360','420','480'][datum.value]", "labelOverlap": false, "title": "Time (sec)", "titleFontSize": 13, "labelFontSize": 12, "domainWidth": 2, "tickWidth": 1.5, "tickSize": 4, "labelPadding": 2, "titlePadding": 3}},
       "y": {"field": "m", "type": "quantitative", "scale": {"domain": [0, 10], "nice": false},
             "axis": {"values": [0,2,4,6,8,10], "tickCount": 50, "format": "d", "labelOverlap": false, "title": "Pain intensity", "titleFontSize": 13, "labelFontSize": 12, "domainWidth": 2, "tickWidth": 1.5, "tickSize": 4, "labelPadding": 1, "titlePadding": 3}}
     },
     "layer": [
      {"transform": [{"filter": "datum.i <= 5"}], "mark": {"type": "line", "color": "#e8202a", "strokeWidth": 1.8}},
      {"transform": [{"filter": "datum.i >= 5"}], "mark": {"type": "line", "color": "black", "strokeWidth": 1.8}},
      {"transform": [{"filter": "datum.i <= 5"}], "mark": {"type": "errorbar", "color": "#e8202a", "ticks": {"size": 8}, "thickness": 1.8},
       "encoding": {"yError": {"field": "e"}}},
      {"transform": [{"filter": "datum.i > 5"}], "mark": {"type": "errorbar", "color": "black", "ticks": {"size": 8}, "thickness": 1.8},
       "encoding": {"yError": {"field": "e"}}},
      {"mark": {"type": "point", "filled": true, "size": 45, "opacity": 1},
       "encoding": {"color": {"condition": {"test": "datum.i <= 5", "value": "#e8202a"}, "value": "black"}}}
     ]},
    {"data": {"values": [{}]}, "mark": {"type": "rule", "strokeWidth": 2.2, "strokeDash": [4, 3], "color": "black"},
     "encoding": {"x": {"datum": 5}, "y": {"datum": 0}, "y2": {"datum": 10}}},
    {"data": {"values": [{}]}, "mark": {"type": "rule", "strokeWidth": 2, "color": "black"},
     "encoding": {"x": {"datum": 0}, "x2": {"datum": 6}, "y": {"datum": 8.1}}},
    {"data": {"values": [{}]}, "mark": {"type": "rule", "strokeWidth": 2, "color": "black"},
     "encoding": {"x": {"datum": 0}, "y": {"datum": 7.6}, "y2": {"datum": 8.6}}},
    {"data": {"values": [{}]}, "mark": {"type": "rule", "strokeWidth": 2, "color": "black"},
     "encoding": {"x": {"datum": 6}, "y": {"datum": 7.6}, "y2": {"datum": 8.6}}},
    {"data": {"values": [{}]}, "mark": {"type": "text", "fontSize": 19, "color": "#333333", "baseline": "middle"},
     "encoding": {"x": {"datum": 3}, "y": {"datum": 8.63}, "text": {"value": "***"}}},
    {"data": {"values": [{}]}, "mark": {"type": "text", "fontSize": 14, "fontWeight": "bold", "color": "#e8202a", "baseline": "middle"},
     "encoding": {"x": {"datum": 2.23}, "y": {"datum": 11.15}, "text": {"value": "Pain phase"}}},
    {"data": {"values": [{}]}, "mark": {"type": "text", "fontSize": 14, "fontWeight": "bold", "baseline": "middle"},
     "encoding": {"x": {"datum": 7.34}, "y": {"datum": 11.15}, "text": {"value": "Recovery phase"}}},
    {"data": {"values": [{}]}, "mark": {"type": "text", "fontSize": 19, "fontWeight": "bold", "baseline": "middle"},
     "encoding": {"x": {"datum": -1.06}, "y": {"datum": 13.13}, "text": {"value": "A"}}},
    {"data": {"values": [{}]}, "mark": {"type": "rule", "strokeWidth": 2, "color": "black"},
     "encoding": {"x": {"datum": -0.45}, "y": {"datum": -2.45}, "y2": {"datum": -0.7}}},
    {"data": {"values": [{}]}, "mark": {"type": "point", "shape": "triangle-up", "filled": true, "size": 40, "color": "black", "opacity": 1},
     "encoding": {"x": {"datum": -0.45}, "y": {"datum": -0.55}}},
    {"data": {"values": [{}]}, "mark": {"type": "text", "font": "Liberation Serif", "fontSize": 14, "fontWeight": "bold", "align": "left", "baseline": "middle"},
     "encoding": {"x": {"datum": -2.31}, "y": {"datum": -3.2}, "text": {"value": "cold-water immersion"}}}
   ]},
  {"width": 194, "height": 131, "data": {"values": [{}]}, "mark": {"type": "point", "opacity": 0}, "encoding": {}},
  {"width": 194, "height": 131,
   "layer": [
    {"data": {"name": "pu"},
     "encoding": {
       "x": {"field": "i", "type": "quantitative", "scale": {"domain": [-0.378, 9.378], "range": [-45, 213], "nice": false, "zero": false},
             "axis": {"values": [0,1,2,3,4,5,6,7,8,9], "tickCount": 50, "labelExpr": "['15','30','60','120','180','240','300','360','420','480'][datum.value]", "labelOverlap": false, "title": "Time (sec)", "titleFontSize": 13, "labelFontSize": 12, "domainWidth": 2, "tickWidth": 1.5, "tickSize": 4, "labelPadding": 2, "titlePadding": 3}},
       "y": {"field": "m", "type": "quantitative", "scale": {"domain": [0, 10], "nice": false},
             "axis": {"offset": 45, "values": [0,2,4,6,8,10], "tickCount": 50, "format": "d", "labelOverlap": false, "title": "Pain unpleasantness", "titleFontSize": 13, "labelFontSize": 12, "domainWidth": 2, "tickWidth": 1.5, "tickSize": 4, "labelPadding": 1, "titlePadding": 3}}
     },
     "layer": [
      {"transform": [{"filter": "datum.i <= 5"}], "mark": {"type": "line", "color": "#e8202a", "strokeWidth": 1.8}},
      {"transform": [{"filter": "datum.i >= 5"}], "mark": {"type": "line", "color": "black", "strokeWidth": 1.8}},
      {"transform": [{"filter": "datum.i <= 5"}], "mark": {"type": "errorbar", "color": "#e8202a", "ticks": {"size": 8}, "thickness": 1.8},
       "encoding": {"yError": {"field": "e"}}},
      {"transform": [{"filter": "datum.i > 5"}], "mark": {"type": "errorbar", "color": "black", "ticks": {"size": 8}, "thickness": 1.8},
       "encoding": {"yError": {"field": "e"}}},
      {"mark": {"type": "point", "filled": true, "size": 45, "opacity": 1},
       "encoding": {"color": {"condition": {"test": "datum.i <= 5", "value": "#e8202a"}, "value": "black"}}}
     ]},
    {"data": {"values": [{}]}, "mark": {"type": "rule", "strokeWidth": 2, "strokeDash": [2, 3], "color": "black"},
     "encoding": {"x": {"datum": 5}, "y": {"datum": 0}, "y2": {"datum": 10}}},
    {"data": {"values": [{}]}, "mark": {"type": "rule", "strokeWidth": 2, "color": "black"},
     "encoding": {"x": {"datum": 0}, "x2": {"datum": 5}, "y": {"datum": 8.48}}},
    {"data": {"values": [{}]}, "mark": {"type": "rule", "strokeWidth": 2, "color": "black"},
     "encoding": {"x": {"datum": 0}, "y": {"datum": 8.05}, "y2": {"datum": 8.92}}},
    {"data": {"values": [{}]}, "mark": {"type": "rule", "strokeWidth": 2, "color": "black"},
     "encoding": {"x": {"datum": 5}, "y": {"datum": 8.05}, "y2": {"datum": 8.92}}},
    {"data": {"values": [{}]}, "mark": {"type": "text", "fontSize": 19, "color": "#333333", "baseline": "middle"},
     "encoding": {"x": {"datum": 2.5}, "y": {"datum": 8.6}, "text": {"value": "***"}}},
    {"data": {"values": [{}]}, "mark": {"type": "text", "fontSize": 19, "color": "#333333", "baseline": "middle"},
     "encoding": {"x": {"datum": 6}, "y": {"datum": 3.42}, "text": {"value": "*"}}},
    {"data": {"values": [{}]}, "mark": {"type": "text", "fontSize": 14, "fontWeight": "bold", "color": "#e8202a", "baseline": "middle"},
     "encoding": {"x": {"datum": 2.21}, "y": {"datum": 11.2}, "text": {"value": "Pain phase"}}},
    {"data": {"values": [{}]}, "mark": {"type": "text", "fontSize": 14, "fontWeight": "bold", "baseline": "middle"},
     "encoding": {"x": {"datum": 7.34}, "y": {"datum": 11.2}, "text": {"value": "Recovery phase"}}},
    {"data": {"values": [{}]}, "mark": {"type": "rule", "strokeWidth": 2, "color": "black"},
     "encoding": {"x": {"datum": -0.42}, "y": {"datum": -2.45}, "y2": {"datum": -0.7}}},
    {"data": {"values": [{}]}, "mark": {"type": "point", "shape": "triangle-up", "filled": true, "size": 40, "color": "black", "opacity": 1},
     "encoding": {"x": {"datum": -0.42}, "y": {"datum": -0.55}}},
    {"data": {"values": [{}]}, "mark": {"type": "text", "font": "Liberation Serif", "fontSize": 14, "fontWeight": "bold", "align": "left", "baseline": "middle"},
     "encoding": {"x": {"datum": -2.27}, "y": {"datum": -3.23}, "text": {"value": "cold-water immersion"}}}
   ]},
  {"width": 178, "height": 210, "data": {"name": "bCz"},
   "layer": [
    {"transform": [{"filter": "datum.c == 'Baseline'"}], "mark": {"type": "line", "strokeWidth": 1.6, "interpolate": "monotone"},
     "encoding": {
      "x": {"field": "t", "type": "quantitative", "scale": {"domain": [-100, 400], "range": [-14, 178], "nice": false, "zero": false},
            "axis": {"orient": "bottom", "offset": -55.5, "values": [-100,0,100,200,300,400], "tickCount": 50, "format": "d", "labelExpr": "datum.value == 0 ? '' : datum.label", "labelOverlap": false, "labelFontSize": 10, "labelPadding": 1, "title": null, "domainWidth": 1.5, "tickWidth": 1.5, "tickSize": 4}},
      "y": {"field": "v", "type": "quantitative", "scale": {"domain": [-4, 4], "range": [99, 210], "nice": false, "zero": false},
            "axis": {"orient": "left", "offset": -24.4, "values": [-4,-2,2,4], "tickCount": 50, "format": "d", "labelOverlap": false, "labelFontSize": 11, "labelPadding": 2, "title": null, "domainWidth": 1.5, "tickWidth": 1.5, "tickSize": 3}},
      "color": {"field": "c", "type": "nominal", "scale": {"domain": ["Baseline","Pain","Recovery"], "range": ["#000000","#ec1c24","#2fe52f"]}},
      "strokeDash": {"field": "s", "type": "nominal", "scale": {"domain": ["Standard","Deviant"], "range": [[1,0],[5,3]]},
            "legend": {"orient": "none", "legendX": 387, "legendY": 663, "direction": "horizontal", "title": null, "symbolType": "stroke", "symbolSize": 169, "symbolStrokeWidth": 2.5, "symbolStrokeColor": "black", "labelFontSize": 15, "labelFontWeight": "normal", "labelOffset": 7, "columnPadding": 18, "padding": 0}}
     }},
    {"data": {"values": [{}]}, "mark": {"type": "text", "fontSize": 19, "fontWeight": "bold", "baseline": "middle"},
     "encoding": {"x": {"datum": -110}, "y": {"datum": -6.08}, "text": {"value": "B"}}},
    {"data": {"values": [{}]}, "mark": {"type": "text", "fontSize": 16, "fontWeight": "bold", "baseline": "middle"},
     "encoding": {"x": {"datum": 184}, "y": {"datum": -5.72}, "text": {"value": "Baseline"}}},
    {"data": {"values": [{}]}, "mark": {"type": "text", "fontSize": 14, "fontWeight": "bold", "align": "right", "baseline": "middle"},
     "encoding": {"x": {"datum": -58}, "y": {"datum": -4}, "text": {"value": "μV"}}},
    {"data": {"values": [{}]}, "mark": {"type": "text", "fontSize": 11, "fontWeight": "bold", "baseline": "middle"},
     "encoding": {"x": {"datum": 403}, "y": {"datum": 1.76}, "text": {"value": "ms"}}},
    {"data": {"values": [{}]}, "mark": {"type": "text", "fontSize": 13, "fontWeight": "bold", "fontStyle": "italic", "align": "left", "baseline": "middle"},
     "encoding": {"x": {"datum": 21}, "y": {"datum": -3.63}, "text": {"value": "Cz"}}}
   ]},
  {"width": 194, "height": 210, "data": {"name": "bCz"},
   "layer": [
    {"transform": [{"filter": "datum.c == 'Pain'"}], "mark": {"type": "line", "strokeWidth": 1.6, "interpolate": "monotone"},
     "encoding": {
      "x": {"field": "t", "type": "quantitative", "scale": {"domain": [-100, 400], "range": [0, 194], "nice": false, "zero": false},
            "axis": {"orient": "bottom", "offset": -55.5, "values": [-100,0,100,200,300,400], "tickCount": 50, "labels": false, "title": null, "domainWidth": 1.5, "tickWidth": 1.5, "tickSize": 4}},
      "y": {"field": "v", "type": "quantitative", "scale": {"domain": [-4, 4], "range": [99, 210], "nice": false, "zero": false},
            "axis": {"orient": "left", "offset": -38.8, "values": [-4,-2,2,4], "tickCount": 50, "format": "d", "labelOverlap": false, "labelFontSize": 11, "labelPadding": 2, "title": null, "domainWidth": 1.5, "tickWidth": 1.5, "tickSize": 3}},
      "color": {"field": "c", "type": "nominal"},
      "strokeDash": {"field": "s", "type": "nominal"}
     }},
    {"data": {"values": [{}]}, "mark": {"type": "text", "fontSize": 16, "fontWeight": "bold", "baseline": "middle"},
     "encoding": {"x": {"datum": 133}, "y": {"datum": -5.72}, "text": {"value": "Pain"}}},
    {"data": {"values": [{}]}, "mark": {"type": "text", "fontSize": 13, "fontWeight": "bold", "fontStyle": "italic", "align": "left", "baseline": "middle"},
     "encoding": {"x": {"datum": 21}, "y": {"datum": -3.63}, "text": {"value": "Cz"}}}
   ]},
  {"width": 194, "height": 210, "data": {"name": "bCz"},
   "layer": [
    {"transform": [{"filter": "datum.c == 'Recovery'"}], "mark": {"type": "line", "strokeWidth": 1.6, "interpolate": "monotone"},
     "encoding": {
      "x": {"field": "t", "type": "quantitative", "scale": {"domain": [-100, 400], "range": [0, 194], "nice": false, "zero": false},
            "axis": {"orient": "bottom", "offset": -55.5, "values": [-100,0,100,200,300,400], "tickCount": 50, "labels": false, "title": null, "domainWidth": 1.5, "tickWidth": 1.5, "tickSize": 4}},
      "y": {"field": "v", "type": "quantitative", "scale": {"domain": [-4, 4], "range": [99, 210], "nice": false, "zero": false},
            "axis": {"orient": "left", "offset": -38.8, "values": [-4,-2,2,4], "tickCount": 50, "format": "d", "labelOverlap": false, "labelFontSize": 11, "labelPadding": 2, "title": null, "domainWidth": 1.5, "tickWidth": 1.5, "tickSize": 3}},
      "color": {"field": "c", "type": "nominal"},
      "strokeDash": {"field": "s", "type": "nominal"}
     }},
    {"data": {"values": [{}]}, "mark": {"type": "text", "fontSize": 16, "fontWeight": "bold", "baseline": "middle"},
     "encoding": {"x": {"datum": 83}, "y": {"datum": -5.72}, "text": {"value": "Recovery"}}},
    {"data": {"values": [{}]}, "mark": {"type": "text", "fontSize": 13, "fontWeight": "bold", "fontStyle": "italic", "align": "left", "baseline": "middle"},
     "encoding": {"x": {"datum": 21}, "y": {"datum": -3.63}, "text": {"value": "Cz"}}}
   ]},
  {"width": 178, "height": 111, "data": {"name": "bFz"},
   "layer": [
    {"transform": [{"filter": "datum.c == 'Baseline'"}], "mark": {"type": "line", "strokeWidth": 1.6, "interpolate": "monotone"},
     "encoding": {
      "x": {"field": "t", "type": "quantitative", "scale": {"domain": [-100, 400], "range": [-14, 178], "nice": false, "zero": false},
            "axis": {"orient": "bottom", "offset": -55.5, "values": [-100,0,100,200,300,400], "tickCount": 50, "labels": false, "title": null, "domainWidth": 1.5, "tickWidth": 1.5, "tickSize": 4}},
      "y": {"field": "v", "type": "quantitative", "scale": {"domain": [-4, 4], "range": [0, 111], "nice": false, "zero": false},
            "axis": {"orient": "left", "offset": -24.4, "values": [-4,-2,2,4], "tickCount": 50, "format": "d", "labelOverlap": false, "labelFontSize": 11, "labelPadding": 2, "title": null, "domainWidth": 1.5, "tickWidth": 1.5, "tickSize": 3}},
      "color": {"field": "c", "type": "nominal"},
      "strokeDash": {"field": "s", "type": "nominal"}
     }},
    {"data": {"values": [{}]}, "mark": {"type": "text", "fontSize": 13, "fontWeight": "bold", "fontStyle": "italic", "align": "left", "baseline": "middle"},
     "encoding": {"x": {"datum": 21}, "y": {"datum": -3.63}, "text": {"value": "Fz"}}}
   ]},
  {"width": 194, "height": 111, "data": {"name": "bFz"},
   "layer": [
    {"transform": [{"filter": "datum.c == 'Pain'"}], "mark": {"type": "line", "strokeWidth": 1.6, "interpolate": "monotone"},
     "encoding": {
      "x": {"field": "t", "type": "quantitative", "scale": {"domain": [-100, 400], "range": [0, 194], "nice": false, "zero": false},
            "axis": {"orient": "bottom", "offset": -55.5, "values": [-100,0,100,200,300,400], "tickCount": 50, "labels": false, "title": null, "domainWidth": 1.5, "tickWidth": 1.5, "tickSize": 4}},
      "y": {"field": "v", "type": "quantitative", "scale": {"domain": [-4, 4], "range": [0, 111], "nice": false, "zero": false},
            "axis": {"orient": "left", "offset": -38.8, "values": [-4,-2,2,4], "tickCount": 50, "format": "d", "labelOverlap": false, "labelFontSize": 11, "labelPadding": 2, "title": null, "domainWidth": 1.5, "tickWidth": 1.5, "tickSize": 3}},
      "color": {"field": "c", "type": "nominal"},
      "strokeDash": {"field": "s", "type": "nominal"}
     }},
    {"data": {"values": [{}]}, "mark": {"type": "text", "fontSize": 13, "fontWeight": "bold", "fontStyle": "italic", "align": "left", "baseline": "middle"},
     "encoding": {"x": {"datum": 21}, "y": {"datum": -3.63}, "text": {"value": "Fz"}}}
   ]},
  {"width": 194, "height": 111, "data": {"name": "bFz"},
   "layer": [
    {"transform": [{"filter": "datum.c == 'Recovery'"}], "mark": {"type": "line", "strokeWidth": 1.6, "interpolate": "monotone"},
     "encoding": {
      "x": {"field": "t", "type": "quantitative", "scale": {"domain": [-100, 400], "range": [0, 194], "nice": false, "zero": false},
            "axis": {"orient": "bottom", "offset": -55.5, "values": [-100,0,100,200,300,400], "tickCount": 50, "labels": false, "title": null, "domainWidth": 1.5, "tickWidth": 1.5, "tickSize": 4}},
      "y": {"field": "v", "type": "quantitative", "scale": {"domain": [-4, 4], "range": [0, 111], "nice": false, "zero": false},
            "axis": {"orient": "left", "offset": -38.8, "values": [-4,-2,2,4], "tickCount": 50, "format": "d", "labelOverlap": false, "labelFontSize": 11, "labelPadding": 2, "title": null, "domainWidth": 1.5, "tickWidth": 1.5, "tickSize": 3}},
      "color": {"field": "c", "type": "nominal"},
      "strokeDash": {"field": "s", "type": "nominal"}
     }},
    {"data": {"values": [{}]}, "mark": {"type": "text", "fontSize": 13, "fontWeight": "bold", "fontStyle": "italic", "align": "left", "baseline": "middle"},
     "encoding": {"x": {"datum": 21}, "y": {"datum": -3.63}, "text": {"value": "Fz"}}}
   ]},
  {"width": 178, "height": 111, "data": {"name": "bM2"},
   "layer": [
    {"transform": [{"filter": "datum.c == 'Baseline'"}], "mark": {"type": "line", "strokeWidth": 1.6, "interpolate": "monotone"},
     "encoding": {
      "x": {"field": "t", "type": "quantitative", "scale": {"domain": [-100, 400], "range": [-14, 178], "nice": false, "zero": false},
            "axis": {"orient": "bottom", "offset": -55.5, "values": [-100,0,100,200,300,400], "tickCount": 50, "labels": false, "title": null, "domainWidth": 1.5, "tickWidth": 1.5, "tickSize": 4}},
      "y": {"field": "v", "type": "quantitative", "scale": {"domain": [-4, 4], "range": [0, 111], "nice": false, "zero": false},
            "axis": {"orient": "left", "offset": -24.4, "values": [-4,-2,2,4], "tickCount": 50, "format": "d", "labelOverlap": false, "labelFontSize": 11, "labelPadding": 2, "title": null, "domainWidth": 1.5, "tickWidth": 1.5, "tickSize": 3}},
      "color": {"field": "c", "type": "nominal"},
      "strokeDash": {"field": "s", "type": "nominal"}
     }},
    {"data": {"values": [{}]}, "mark": {"type": "text", "fontSize": 13, "fontWeight": "bold", "fontStyle": "italic", "align": "left", "baseline": "middle"},
     "encoding": {"x": {"datum": 21}, "y": {"datum": -3.63}, "text": {"value": "M2"}}}
   ]},
  {"width": 194, "height": 111, "data": {"name": "bM2"},
   "layer": [
    {"transform": [{"filter": "datum.c == 'Pain'"}], "mark": {"type": "line", "strokeWidth": 1.6, "interpolate": "monotone"},
     "encoding": {
      "x": {"field": "t", "type": "quantitative", "scale": {"domain": [-100, 400], "range": [0, 194], "nice": false, "zero": false},
            "axis": {"orient": "bottom", "offset": -55.5, "values": [-100,0,100,200,300,400], "tickCount": 50, "labels": false, "title": null, "domainWidth": 1.5, "tickWidth": 1.5, "tickSize": 4}},
      "y": {"field": "v", "type": "quantitative", "scale": {"domain": [-4, 4], "range": [0, 111], "nice": false, "zero": false},
            "axis": {"orient": "left", "offset": -38.8, "values": [-4,-2,2,4], "tickCount": 50, "format": "d", "labelOverlap": false, "labelFontSize": 11, "labelPadding": 2, "title": null, "domainWidth": 1.5, "tickWidth": 1.5, "tickSize": 3}},
      "color": {"field": "c", "type": "nominal"},
      "strokeDash": {"field": "s", "type": "nominal"}
     }},
    {"data": {"values": [{}]}, "mark": {"type": "text", "fontSize": 13, "fontWeight": "bold", "fontStyle": "italic", "align": "left", "baseline": "middle"},
     "encoding": {"x": {"datum": 21}, "y": {"datum": -3.63}, "text": {"value": "M2"}}}
   ]},
  {"width": 194, "height": 111, "data": {"name": "bM2"},
   "layer": [
    {"transform": [{"filter": "datum.c == 'Recovery'"}], "mark": {"type": "line", "strokeWidth": 1.6, "interpolate": "monotone"},
     "encoding": {
      "x": {"field": "t", "type": "quantitative", "scale": {"domain": [-100, 400], "range": [0, 194], "nice": false, "zero": false},
            "axis": {"orient": "bottom", "offset": -55.5, "values": [-100,0,100,200,300,400], "tickCount": 50, "labels": false, "title": null, "domainWidth": 1.5, "tickWidth": 1.5, "tickSize": 4}},
      "y": {"field": "v", "type": "quantitative", "scale": {"domain": [-4, 4], "range": [0, 111], "nice": false, "zero": false},
            "axis": {"orient": "left", "offset": -38.8, "values": [-4,-2,2,4], "tickCount": 50, "format": "d", "labelOverlap": false, "labelFontSize": 11, "labelPadding": 2, "title": null, "domainWidth": 1.5, "tickWidth": 1.5, "tickSize": 3}},
      "color": {"field": "c", "type": "nominal"},
      "strokeDash": {"field": "s", "type": "nominal"}
     }},
    {"data": {"values": [{}]}, "mark": {"type": "text", "fontSize": 13, "fontWeight": "bold", "fontStyle": "italic", "align": "left", "baseline": "middle"},
     "encoding": {"x": {"datum": 21}, "y": {"datum": -3.63}, "text": {"value": "M2"}}}
   ]},
  {"width": 178, "height": 219, "data": {"name": "cFz"},
   "layer": [
    {"mark": {"type": "line", "strokeWidth": 2.3, "interpolate": "monotone"},
     "encoding": {
      "x": {"field": "t", "type": "quantitative", "scale": {"domain": [-100, 400], "range": [-1, 239], "nice": false, "zero": false},
            "axis": {"orient": "bottom", "offset": -79, "values": [-100,0,100,200,300,400], "tickCount": 50, "format": "d", "labelExpr": "datum.value == 0 ? '' : datum.label", "labelOverlap": false, "labelFontSize": 12, "labelPadding": 3, "title": null, "domainWidth": 2, "tickWidth": 1.5, "tickSize": 4}},
      "y": {"field": "v", "type": "quantitative", "scale": {"domain": [-4, 4], "range": [61, 219], "nice": false, "zero": false},
            "axis": {"orient": "left", "offset": -47, "values": [-4,-2,2,4], "tickCount": 50, "format": "d", "labelOverlap": false, "labelFontSize": 12, "labelPadding": 1, "title": null, "domainWidth": 2, "tickWidth": 1.5, "tickSize": 4}},
      "color": {"field": "c", "type": "nominal",
            "legend": {"orient": "none", "legendX": 243, "legendY": 703, "title": null, "symbolType": "stroke", "symbolSize": 289, "symbolStrokeWidth": 2.5, "labelFontSize": 14, "labelFontWeight": "normal", "labelOffset": 10, "rowPadding": 2, "padding": 0}}
     }},
    {"data": {"values": [{}]}, "mark": {"type": "rect", "fill": null, "fillOpacity": 0, "stroke": "black", "strokeWidth": 1.5, "strokeDash": [4, 3]},
     "encoding": {"x": {"datum": 145}, "x2": {"datum": 200}, "y": {"datum": -2.85}, "y2": {"datum": 0.15}}},
    {"data": {"values": [{}]}, "mark": {"type": "rule", "strokeWidth": 2, "color": "black"},
     "encoding": {"x": {"datum": 246}, "x2": {"datum": 212}, "y": {"datum": -3.05}, "y2": {"datum": -2.48}}},
    {"data": {"values": [{}]}, "mark": {"type": "point", "shape": "triangle-up", "filled": true, "size": 60, "color": "black", "opacity": 1, "angle": 234},
     "encoding": {"x": {"datum": 209}, "y": {"datum": -2.43}}},
    {"data": {"values": [{}]}, "mark": {"type": "text", "fontSize": 14, "align": "left", "baseline": "middle"},
     "encoding": {"x": {"datum": 252}, "y": {"datum": -3.3}, "text": {"value": "MMN"}}},
    {"data": {"values": [{}]}, "mark": {"type": "text", "fontSize": 19, "fontWeight": "bold", "baseline": "middle"},
     "encoding": {"x": {"datum": -133}, "y": {"datum": -4.91}, "text": {"value": "C"}}},
    {"data": {"values": [{}]}, "mark": {"type": "text", "fontSize": 16, "fontWeight": "bold", "align": "right", "baseline": "middle"},
     "encoding": {"x": {"datum": -52}, "y": {"datum": -3.5}, "text": {"value": "μV"}}},
    {"data": {"values": [{}]}, "mark": {"type": "text", "fontSize": 16, "fontWeight": "bold", "fontStyle": "italic", "align": "left", "baseline": "middle"},
     "encoding": {"x": {"datum": 21}, "y": {"datum": -3.45}, "text": {"value": "Fz"}}},
    {"data": {"values": [{}]}, "mark": {"type": "text", "fontSize": 14, "fontWeight": "bold", "baseline": "middle"},
     "encoding": {"x": {"datum": 387}, "y": {"datum": 1.68}, "text": {"value": "ms"}}}
   ]},
  {"width": 194, "height": 219, "data": {"values": [{}]}, "mark": {"type": "point", "opacity": 0}, "encoding": {}},
  {"width": 194, "height": 219, "data": {"name": "cM2"},
   "layer": [
    {"mark": {"type": "line", "strokeWidth": 2.3, "interpolate": "monotone"},
     "encoding": {
      "x": {"field": "t", "type": "quantitative", "scale": {"domain": [-100, 400], "range": [-35, 206], "nice": false, "zero": false},
            "axis": {"orient": "bottom", "offset": -79, "values": [-100,0,100,200,300,400], "tickCount": 50, "labels": false, "title": null, "domainWidth": 2, "tickWidth": 1.5, "tickSize": 4}},
      "y": {"field": "v", "type": "quantitative", "scale": {"domain": [-4, 4], "range": [61, 219], "nice": false, "zero": false},
            "axis": {"orient": "left", "offset": -13.2, "values": [-4,-2,2,4], "tickCount": 50, "format": "d", "labelOverlap": false, "labelFontSize": 12, "labelPadding": 1, "title": null, "domainWidth": 2, "tickWidth": 1.5, "tickSize": 4}},
      "color": {"field": "c", "type": "nominal"}
     }},
    {"data": {"values": [{}]}, "mark": {"type": "rect", "fill": null, "fillOpacity": 0, "stroke": "black", "strokeWidth": 1.5, "strokeDash": [4, 3]},
     "encoding": {"x": {"datum": 148}, "x2": {"datum": 200}, "y": {"datum": 0.25}, "y2": {"datum": 2.9}}},
    {"data": {"values": [{}]}, "mark": {"type": "rule", "strokeWidth": 2, "color": "black"},
     "encoding": {"x": {"datum": 249}, "x2": {"datum": 213}, "y": {"datum": 2.94}, "y2": {"datum": 2.47}}},
    {"data": {"values": [{}]}, "mark": {"type": "point", "shape": "triangle-up", "filled": true, "size": 60, "color": "black", "opacity": 1, "angle": 299},
     "encoding": {"x": {"datum": 209}, "y": {"datum": 2.42}}},
    {"data": {"values": [{}]}, "mark": {"type": "text", "fontSize": 15, "align": "left", "baseline": "middle"},
     "encoding": {"x": {"datum": 257}, "y": {"datum": 3.2}, "text": {"value": "Reversal"}}},
    {"data": {"values": [{}]}, "mark": {"type": "text", "fontSize": 16, "fontWeight": "bold", "fontStyle": "italic", "align": "left", "baseline": "middle"},
     "encoding": {"x": {"datum": 19}, "y": {"datum": -3.55}, "text": {"value": "M2"}}}
   ]}
]
}
